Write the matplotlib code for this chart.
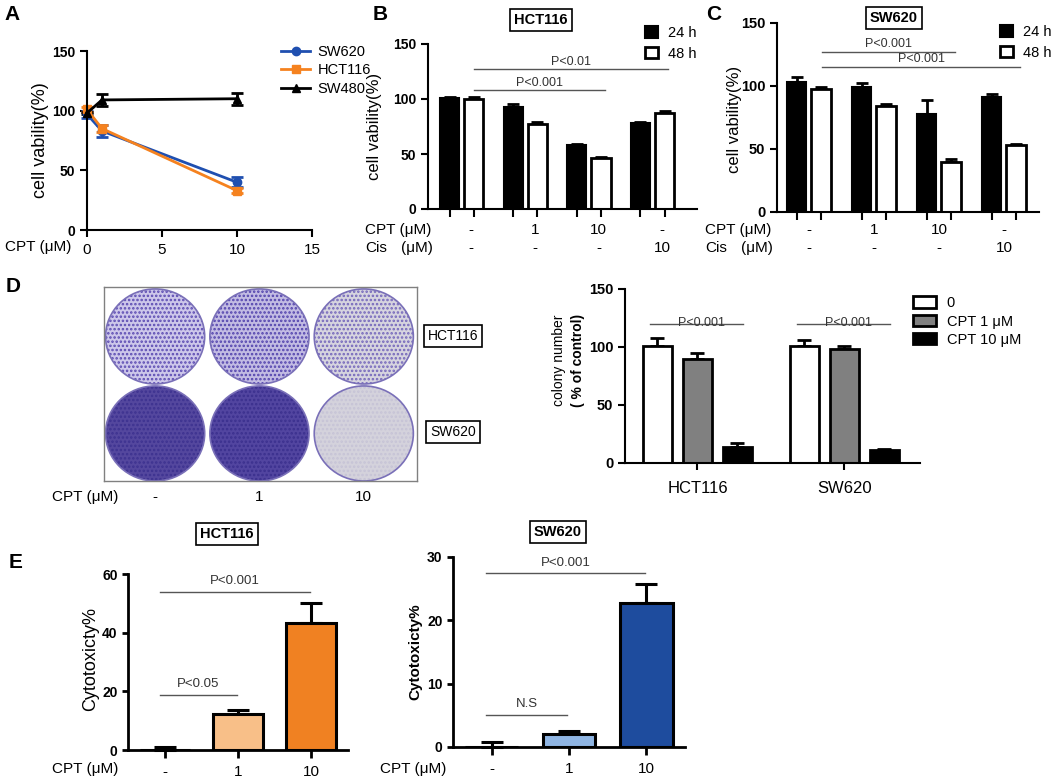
import numpy as np
import matplotlib.pyplot as plt
from matplotlib.patches import Ellipse, Patch
from matplotlib.lines import Line2D
from matplotlib.transforms import blended_transform_factory

plt.rcParams['font.family'] = ['Liberation Sans', 'DejaVu Sans']
plt.rcParams['hatch.linewidth'] = 1.2

W, H = 1052, 780

# ---------------- data ----------------
# A: viability vs CPT dose
a_dose = [0, 1, 10]
a_sw620 = [97, 83, 40]
a_sw620_err = [3, 5, 4]
a_hct116 = [101, 85, 33]
a_hct116_err = [2, 3, 2]
a_sw480 = [98, 109, 110]
a_sw480_err = [1, 5, 5]

# B / C: viability 24 h / 48 h
b_24h = [101, 93, 58, 78]
b_24h_err = [1, 2, 1, 1]
b_48h = [100, 77, 46, 87]
b_48h_err = [2, 2, 1, 2]
c_24h = [103, 99, 78, 91]
c_24h_err = [4, 3, 11, 3]
c_48h = [98, 84, 40, 53]
c_48h_err = [1, 2, 2, 1]
cpt_row = ['-', '1', '10', '-']
cis_row = ['-', '-', '-', '10']
b_pvals = [(0, 3, 127, 'P<0.01'), (0, 2, 108, 'P<0.001')]
c_pvals = [(0, 2, 127, 'P<0.001'), (0, 3, 115, 'P<0.001')]

# D: colony formation
d_cells = ['HCT116', 'SW620']
d_ctrl = [101, 101]
d_ctrl_err = [6.5, 5]
d_cpt1 = [89.5, 98]
d_cpt1_err = [5.5, 3]
d_cpt10 = [14, 11]
d_cpt10_err = [3.5, 1]
d_doses = ['-', '1', '10']
plate_face = [['#cdc7ea', '#c2bbe3', '#d6d4df'],
              ['#54479e', '#5245a0', '#d4d2dc']]
plate_dots = [['#5b4ab2', '#5242ad', '#7466bb'],
              ['#3d3290', '#3b308e', '#c6c3d6']]

# E: cytotoxicity
e_doses = ['-', '1', '10']
e_hct116 = [0, 12.3, 43.2]
e_hct116_err = [1.0, 1.4, 6.8]
e_sw620 = [0, 2.0, 22.8]
e_sw620_err = [0.8, 0.5, 3.0]
e_hct_pvals = [(0, 2, 54, 'P<0.001'), (0, 1, 18.8, 'P<0.05')]
e_sw_pvals = [(0, 2, 27.4, 'P<0.001'), (0, 1, 5.05, 'N.S')]


fig = plt.figure(figsize=(W / 100, H / 100), dpi=100)


def px_axes(l, t, r, b):
    return fig.add_axes([l / W, 1 - b / H, (r - l) / W, (b - t) / H])


def fy(py):
    return 1 - py / H


def style(ax, lw=1.5):
    for s in ['top', 'right']:
        ax.spines[s].set_visible(False)
    for s in ['left', 'bottom']:
        ax.spines[s].set_linewidth(lw)
    ax.tick_params(width=lw, length=5, direction='out')


def up_err(ax, x, y, err, cap=4, lw=2):
    ax.errorbar(x, y, yerr=[np.zeros(len(err)), err], fmt='none', ecolor='black',
                elinewidth=lw, capsize=cap, capthick=lw, clip_on=False, zorder=1)


def pline(ax, x0, x1, y, label, dy=1.5, fs=9):
    ax.plot([x0, x1], [y, y], color='#555555', lw=1, clip_on=False)
    ax.text((x0 + x1) / 2, y + dy, label, ha='center', va='bottom',
            fontsize=fs, color='#333333')


def title_box(x, y, label, fs=10, bold=True):
    fig.text(x / W, fy(y), label, ha='center', va='center', fontsize=fs,
             fontweight='bold' if bold else 'normal',
             bbox=dict(boxstyle='square,pad=0.3', fc='white', ec='black', lw=1.2))


# panel letters
for lab, x, y in [('A', 12, 14), ('B', 380, 14), ('C', 714, 14), ('D', 13, 287), ('E', 16, 563)]:
    fig.text(x / W, fy(y), lab, ha='center', va='center', fontsize=15, fontweight='bold')

# ---------------- A ----------------
ax = px_axes(87, 51, 312, 230)
style(ax)
series = [(a_sw620, a_sw620_err, '#1f4fb0', 'o', 'SW620'),
          (a_hct116, a_hct116_err, '#f5821f', 's', 'HCT116'),
          (a_sw480, a_sw480_err, 'black', '^', 'SW480')]
handles = []
for vals, err, col, mk, name in series:
    ax.errorbar(a_dose, vals, yerr=err, color=col, marker=mk, ms=6, lw=2,
                elinewidth=2, capsize=4, capthick=2, clip_on=False)
    handles.append(Line2D([], [], color=col, marker=mk, ms=6, lw=2, label=name))
ax.set_xlim(0, 15)
ax.set_ylim(0, 150)
ax.set_xticks([0, 5, 10, 15])
ax.set_yticks([0, 50, 100, 150])
ax.tick_params(axis='x', labelsize=11, pad=4)
ax.tick_params(axis='y', labelsize=10)
for t in ax.get_yticklabels():
    t.set_fontweight('bold')
ax.set_ylabel('cell vability(%)', fontsize=13)
ax.yaxis.set_label_coords(-0.17, 0.5)
fig.text(5 / W, fy(247), 'CPT (μM)', ha='left', va='center', fontsize=11)
fig.legend(handles=handles, loc='upper left', bbox_to_anchor=(268 / W, fy(32)),
           frameon=False, fontsize=10.5, handlelength=2.0, labelspacing=0.3,
           handletextpad=0.5)


# ---------------- B & C ----------------
def viability(ax, v24, e24, v48, e48, pvals, xlim, label_off, lx, title, tx, ty, legx, legy, ts):
    style(ax)
    x = np.arange(len(v24))
    off, w = 0.19, 0.30
    ax.bar(x - off, v24, w, color='black', edgecolor='black', lw=1.5, zorder=2)
    ax.bar(x + off, v48, w, color='white', edgecolor='black', lw=2, zorder=2)
    up_err(ax, x - off, v24, e24)
    up_err(ax, x + off, v48, e48)
    ax.set_xlim(*xlim)
    ax.set_ylim(0, 150)
    ax.set_yticks([0, 50, 100, 150])
    ax.set_xticks(np.concatenate([x - off, x + off]))
    ax.set_xticklabels([])
    ax.tick_params(axis='x', length=6)
    ax.tick_params(axis='y', labelsize=ts)
    for t in ax.get_yticklabels():
        t.set_fontweight('bold')
    for i, j, y, lab in pvals:
        pline(ax, i + 0.2, j + 0.25, y, lab)
    tr = blended_transform_factory(ax.transData, fig.transFigure)
    for k in range(len(x)):
        ax.text(x[k] + label_off, fy(230), cpt_row[k], transform=tr, ha='center', va='center', fontsize=11)
        ax.text(x[k] + label_off, fy(248), cis_row[k], transform=tr, ha='center', va='center', fontsize=11)
    fig.text(lx / W, fy(230), 'CPT (μM)', ha='left', va='center', fontsize=11)
    fig.text(lx / W, fy(248), 'Cis', ha='left', va='center', fontsize=11)
    fig.text((lx + 36) / W, fy(248), '(μM)', ha='left', va='center', fontsize=11)
    title_box(tx, ty, title, fs=10.5)
    leg_h = [Patch(fc='black', ec='black', lw=1.5, label='24 h'),
             Patch(fc='white', ec='black', lw=2, label='48 h')]
    fig.legend(handles=leg_h, loc='upper left', bbox_to_anchor=(legx / W, fy(legy)),
               frameon=False, fontsize=10.5, handlelength=0.85, handleheight=0.85,
               labelspacing=0.45, handletextpad=0.7)


ax = px_axes(428, 44, 697, 209)
viability(ax, b_24h, b_24h_err, b_48h, b_48h_err, b_pvals, (-0.53, 3.70), 0.15, 365,
          'HCT116', 541, 20, 632, 13, 10)
ax.set_ylabel('cell vability(%)', fontsize=12)
ax.yaxis.set_label_coords(-0.17, 0.5)

ax = px_axes(777, 23, 1039, 212)
viability(ax, c_24h, c_24h_err, c_48h, c_48h_err, c_pvals, (-0.49, 3.54), 0.0, 705,
          'SW620', 894, 18, 987, 12, 10.5)
ax.set_ylabel('cell vability(%)', fontsize=12)
ax.yaxis.set_label_coords(-0.135, 0.49)

# ---------------- D photo ----------------
ax = px_axes(104, 287, 417, 481)
ax.set_xlim(0, 3)
ax.set_ylim(2, 0)
ax.set_xticks([])
ax.set_yticks([])
for s in ax.spines.values():
    s.set_color('#808080')
    s.set_linewidth(1)
for r in range(2):
    for c in range(3):
        e = Ellipse((c + 0.49, r + 0.51), 0.95, 0.98, fc=plate_face[r][c],
                    ec=plate_dots[r][c], hatch='....', lw=0)
        ax.add_patch(e)
        ax.add_patch(Ellipse((c + 0.49, r + 0.51), 0.95, 0.98, fc='none',
                             ec='#7a70b8', lw=1.2))
for c in range(3):
    fig.text((104 + (c + 0.49) * 313 / 3) / W, fy(497), d_doses[c], ha='center',
             va='center', fontsize=11)
fig.text(52 / W, fy(497), 'CPT (μM)', ha='left', va='center', fontsize=11)
title_box(453, 336, 'HCT116', fs=10, bold=False)
title_box(453, 432, 'SW620', fs=10, bold=False)

# ---------------- D bars ----------------
ax = px_axes(625, 289, 920, 463)
style(ax)
g = np.arange(len(d_cells))
off, w = 0.272, 0.197
ax.bar(g - off, d_ctrl, w, color='white', edgecolor='black', lw=2, zorder=2)
ax.bar(g, d_cpt1, w, color='#808080', edgecolor='black', lw=2, zorder=2)
ax.bar(g + off, d_cpt10, w, color='black', edgecolor='black', lw=2, zorder=2)
up_err(ax, g - off, d_ctrl, d_ctrl_err, cap=5)
up_err(ax, g, d_cpt1, d_cpt1_err, cap=5)
up_err(ax, g + off, d_cpt10, d_cpt10_err, cap=5)
ax.set_xlim(-0.493, 1.514)
ax.set_ylim(0, 150)
ax.set_yticks([0, 50, 100, 150])
ax.set_xticks(g)
ax.set_xticklabels(d_cells, fontsize=12)
ax.tick_params(axis='x', pad=8)
ax.tick_params(axis='y', labelsize=10.5)
for t in ax.get_yticklabels():
    t.set_fontweight('bold')
for k in g:
    ax.plot([k - 0.32, k + 0.31], [120, 120], color='#555555', lw=1)
    ax.text(k + 0.03, 118.3, 'P<0.001', ha='center', va='baseline', fontsize=9, color='#333333')
ax.text(-0.225, 0.59, 'colony number', transform=ax.transAxes, rotation=90,
        ha='center', va='center', fontsize=10)
ax.text(-0.16, 0.59, '( % of control)', transform=ax.transAxes, rotation=90,
        ha='center', va='center', fontsize=10, fontweight='bold')
leg_h = [Patch(fc='white', ec='black', lw=2, label='0'),
         Patch(fc='#808080', ec='black', lw=2, label='CPT 1 μM'),
         Patch(fc='black', ec='black', lw=2, label='CPT 10 μM')]
fig.legend(handles=leg_h, loc='upper left', bbox_to_anchor=(900 / W, fy(283)),
           frameon=False, fontsize=10.5, handlelength=1.6, handleheight=0.8,
           labelspacing=0.3, handletextpad=0.7)


# ---------------- E ----------------
def cyto(ax, vals, err, colors, ymax, yt, pvals, lx, title, tx, ty, bold_label, lsize):
    style(ax, lw=2)
    x = np.arange(len(vals))
    ax.bar(x, vals, 0.68, color=colors, edgecolor='black', lw=2.2, zorder=2)
    up_err(ax, x, vals, err, cap=8, lw=2.2)
    ax.set_xlim(-0.5, 2.5)
    ax.set_ylim(0, ymax)
    ax.set_yticks(yt)
    ax.set_xticks(x)
    ax.set_xticklabels(e_doses, fontsize=11)
    ax.tick_params(axis='x', length=6, pad=5)
    ax.tick_params(axis='y', labelsize=10, length=4)
    for t in ax.get_yticklabels():
        t.set_fontweight('bold')
    for i, j, y, lab in pvals:
        pline(ax, i - 0.07, j - 0.02, y, lab, dy=ymax * 0.025, fs=9.5)
    ax.set_ylabel('Cytotoxicty%', fontsize=lsize,
                  fontweight='bold' if bold_label else 'normal')
    fig.text(lx / W, fy(769), 'CPT (μM)', ha='left', va='center', fontsize=11)
    title_box(tx, ty, title, fs=10.5)


ax = px_axes(128, 574, 348, 750)
cyto(ax, e_hct116, e_hct116_err, ['white', '#f8bf88', '#f08122'], 60, [0, 20, 40, 60],
     e_hct_pvals, 52, 'HCT116', 227, 534, False, 13)
ax.yaxis.set_label_coords(-0.13, 0.517)

ax = px_axes(453, 557, 685, 747)
cyto(ax, e_sw620, e_sw620_err, ['white', '#8fb5e3', '#1e4c9e'], 30, [0, 10, 20, 30],
     e_sw_pvals, 380, 'SW620', 558, 532, True, 11)
ax.yaxis.set_label_coords(-0.13, 0.5)

fig.savefig('out.png', dpi=100)
